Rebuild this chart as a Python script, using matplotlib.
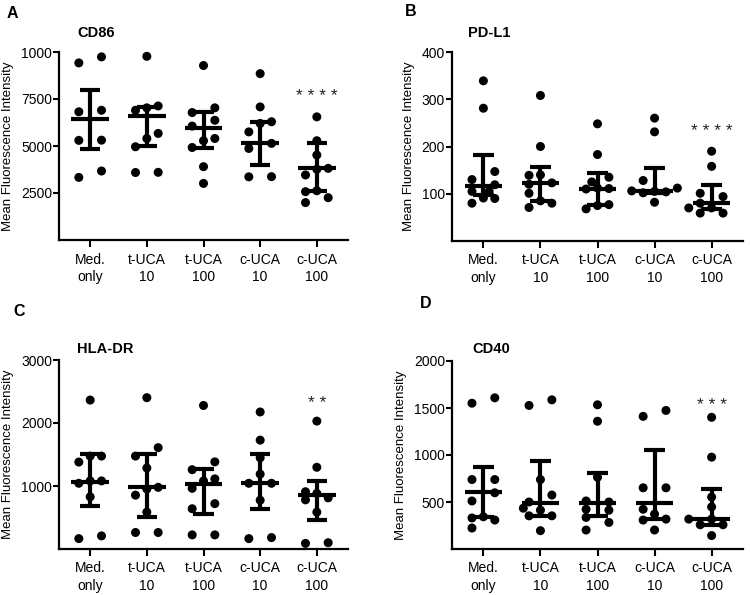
import matplotlib
matplotlib.use('Agg')
import matplotlib.pyplot as plt
import numpy as np

plt.rcParams['font.family'] = ['Liberation Sans', 'DejaVu Sans']

# ── data ────────────────────────────────────────────
groups = ['Med.\nonly', 't-UCA\n10', 't-UCA\n100', 'c-UCA\n10', 'c-UCA\n100']

cd86 = [
    [9740, 9420, 6900, 6820, 5310, 5300, 3670, 3330],
    [9770, 7130, 7030, 6900, 5670, 5400, 4960, 3600, 3590],
    [9280, 7030, 6780, 6370, 6060, 5400, 5280, 4920, 3900, 3010],
    [8850, 7080, 6290, 6200, 5750, 5140, 4870, 3370, 3360],
    [6550, 5280, 4520, 3810, 3760, 3460, 2620, 2570, 2250, 1990],
]
cd86_med = [6460, 6620, 5980, 5140, 3810]
cd86_hi = [7970, 7050, 6820, 6290, 5140]
cd86_lo = [4820, 4990, 4920, 3990, 2620]

pdl1 = [
    [339, 281, 147, 130, 119, 105, 105, 91, 90, 80],
    [308, 200, 140, 139, 123, 120, 101, 85, 80, 71],
    [248, 183, 135, 125, 112, 111, 110, 77, 75, 68],
    [260, 231, 128, 112, 106, 105, 104, 102, 82],
    [190, 158, 101, 94, 80, 70, 70, 59, 59],
]
pdl1_med = [116, 123, 111, 106, 81]
pdl1_hi = [183, 156, 144, 154, 119]
pdl1_lo = [97, 84, 77, 101, 67]

hladr = [
    [2364, 1475, 1475, 1380, 1081, 1081, 1043, 828, 208, 165],
    [2402, 1609, 1475, 1286, 979, 952, 855, 585, 262, 262],
    [2278, 1383, 1259, 1113, 1081, 963, 720, 639, 224, 224],
    [2175, 1728, 1448, 1189, 1043, 1043, 774, 181, 165],
    [2030, 1297, 909, 882, 812, 780, 585, 100, 89],
]
hladr_med = [1070, 989, 1027, 1054, 855]
hladr_hi = [1502, 1502, 1275, 1512, 1081]
hladr_lo = [682, 504, 558, 639, 467]

cd40 = [
    [1608, 1551, 739, 739, 598, 511, 343, 330, 308, 223],
    [1587, 1527, 739, 574, 500, 434, 413, 353, 353, 195],
    [1534, 1359, 763, 511, 500, 423, 413, 336, 283, 202],
    [1474, 1411, 651, 651, 423, 371, 318, 308, 202],
    [1401, 977, 553, 448, 318, 318, 258, 258, 143],
]
cd40_med = [605, 493, 493, 486, 318]
cd40_hi = [872, 938, 809, 1054, 633]
cd40_lo = [343, 353, 353, 318, 258]

cd86_ticks = [2500, 5000, 7500, 10000]
cd86_ticklabels = ['2500', '5000', '7500', '1000']
pdl1_ticks = [100, 200, 300, 400]
hladr_ticks = [1000, 2000, 3000]
cd40_ticks = [500, 1000, 1500, 2000]

stars = ['****', '****', '**', '***']
star_y = [7650, 231, 2310, 1527]

# ── layout in pixels (750 x 595) ────────────────────
W, H = 750, 595
fig = plt.figure(figsize=(W / 100, H / 100), dpi=100)
fig.patch.set_facecolor('white')

def px_axes(l, t, r, b):
    return fig.add_axes([l / W, 1 - b / H, (r - l) / W, (b - t) / H])

XPX = 289 / 5.1   # pixels per category unit
DOT = 8.5         # dot diameter in px


def swarm(vals, ppu):
    vals = np.asarray(vals, float)
    order = np.argsort(vals)
    offs = np.zeros(len(vals))
    clusters, cur = [], [order[0]]
    for i in order[1:]:
        if (vals[i] - vals[cur[-1]]) * ppu < DOT:
            cur.append(i)
        else:
            clusters.append(cur)
            cur = [i]
    clusters.append(cur)
    for c in clusters:
        n = len(c)
        if n == 1:
            o = [0.0]
        elif n == 2:
            o = [-0.2, 0.2]
        elif n == 3:
            o = [-0.2, 0.0, 0.2]
        else:
            o = []
            cands = [-0.2, 0.2, 0.0, -0.1, 0.1, -0.3, 0.3, -0.4, 0.4]
            for k, i in enumerate(c):
                for cx in cands:
                    ok = True
                    for j, ox in zip(c[:k], o):
                        d = np.hypot((cx - ox) * XPX, (vals[i] - vals[j]) * ppu)
                        if d < DOT * 0.95:
                            ok = False
                            break
                    if ok:
                        break
                o.append(cx)
        for i, ox in zip(c, o):
            offs[i] = ox
    return offs


panels = [
    dict(box=(59, 52, 348, 240), data=cd86, med=cd86_med, hi=cd86_hi, lo=cd86_lo,
         ymax=10000, ticks=cd86_ticks, labels=cd86_ticklabels, title='CD86',
         tpos=(77, 33), letter='A', lpos=(12, 13)),
    dict(box=(452, 52, 743, 241), data=pdl1, med=pdl1_med, hi=pdl1_hi, lo=pdl1_lo,
         ymax=400, ticks=pdl1_ticks, labels=None, title='PD-L1',
         tpos=(468, 33), letter='B', lpos=(411, 11)),
    dict(box=(59, 360, 348, 549), data=hladr, med=hladr_med, hi=hladr_hi, lo=hladr_lo,
         ymax=3000, ticks=hladr_ticks, labels=None, title='HLA-DR',
         tpos=(77, 349), letter='C', lpos=(19, 311)),
    dict(box=(452, 361, 743, 549), data=cd40, med=cd40_med, hi=cd40_hi, lo=cd40_lo,
         ymax=2000, ticks=cd40_ticks, labels=None, title='CD40',
         tpos=(472, 349), letter='D', lpos=(426, 304)),
]

for p, st, sy in zip(panels, stars, star_y):
    ax = px_axes(*p['box'])
    ppu = (p['box'][3] - p['box'][1]) / p['ymax']
    x = np.arange(len(groups))

    for xi, vals in zip(x, p['data']):
        offs = swarm(vals, ppu)
        ax.scatter(xi + offs, vals, s=42, color='black', edgecolor='none',
                   zorder=3, clip_on=False)

    # median with interquartile range
    ax.hlines(p['med'], x - 0.33, x + 0.33, color='black', lw=3, zorder=4)
    ax.hlines(p['hi'], x - 0.18, x + 0.18, color='black', lw=3, zorder=4)
    ax.hlines(p['lo'], x - 0.18, x + 0.18, color='black', lw=3, zorder=4)
    ax.vlines(x, p['lo'], p['hi'], color='black', lw=3, zorder=4)

    ax.text(x[-1], sy, ' '.join(st), ha='center', va='center',
            fontsize=12.5, color='#222222')

    ax.set_xlim(-0.55, len(groups) - 0.45)
    ax.set_ylim(0, p['ymax'])
    ax.set_xticks(x)
    ax.set_xticklabels(groups, fontsize=10, linespacing=1.35)
    if p['labels']:
        ax.set_yticks(p['ticks'], labels=p['labels'])
    else:
        ax.set_yticks(p['ticks'])
    ax.tick_params(axis='y', labelsize=10, length=4, width=1.5, pad=1)
    ax.tick_params(axis='x', length=5, width=1.5, pad=4)
    ax.set_ylabel('Mean Fluorescence Intensity', fontsize=9.5, labelpad=5)
    for s in ['top', 'right']:
        ax.spines[s].set_visible(False)
    for s in ['left', 'bottom']:
        ax.spines[s].set_linewidth(1.6)

    fig.text(p['tpos'][0] / W, 1 - p['tpos'][1] / H, p['title'],
             fontsize=10.5, fontweight='bold', ha='left', va='center')
    fig.text(p['lpos'][0] / W, 1 - p['lpos'][1] / H, p['letter'],
             fontsize=11.5, fontweight='bold', ha='center', va='center')

fig.savefig('out.png', dpi=100, facecolor='white')
